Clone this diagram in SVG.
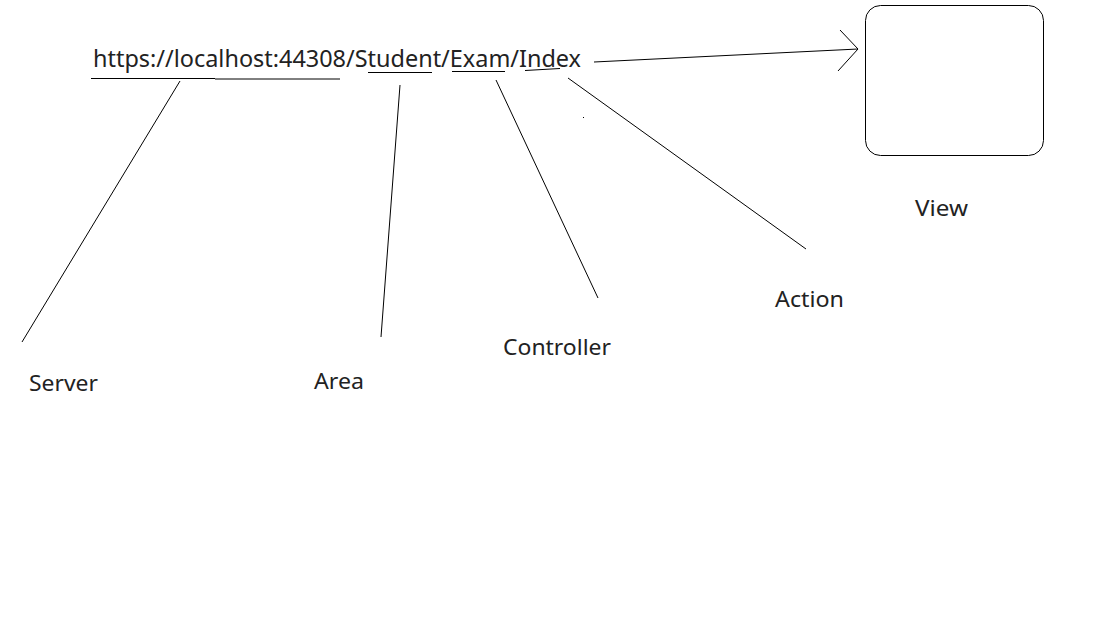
<svg xmlns="http://www.w3.org/2000/svg" width="1097" height="638" viewBox="0 0 1097 638">
<style>
text{font-family:"Noto Sans","Open Sans","DejaVu Sans",sans-serif;fill:#222;}
.url{font-size:24px;}
.lbl{font-size:21px;}
.ln{stroke:#000;stroke-width:1;fill:none;}
</style>
<rect width="1097" height="638" fill="#fff"/>
<g id="url">
<text class="url" x="93" y="67" textLength="488" lengthAdjust="spacingAndGlyphs">https://localhost:44308/Student/Exam/Index</text>
</g>
<g id="underlines" class="ln">
<path d="M91 78.5H215M215 79H340"/>
<path d="M368 72.5H432"/>
<path d="M452 71.5H505"/>
<path d="M525 70.5L560 68.5"/>
</g>
<g id="view">
<rect class="ln" x="865.5" y="5.5" width="178" height="150" rx="15" ry="15"/>
<text class="lbl" x="915" y="216" textLength="53" lengthAdjust="spacingAndGlyphs">View</text>
</g>
<g id="server"><text class="lbl" x="29" y="391" textLength="69" lengthAdjust="spacingAndGlyphs">Server</text></g>
<g id="area"><text class="lbl" x="314" y="389" textLength="50" lengthAdjust="spacingAndGlyphs">Area</text></g>
<g id="controller"><text class="lbl" x="503" y="355" textLength="108" lengthAdjust="spacingAndGlyphs">Controller</text></g>
<g id="action"><text class="lbl" x="775" y="307" textLength="69" lengthAdjust="spacingAndGlyphs">Action</text></g>
<g id="connectors" class="ln">
<path d="M180 81L22 342"/>
<path d="M400 85L381 337"/>
<path d="M496 80L598 298"/>
<path d="M568 78L806 249"/>
<path d="M594 62L858 49"/>
<path d="M840 30L858 49L838 71"/>
</g>
<rect x="583" y="117" width="1" height="1" fill="#000"/>
</svg>
